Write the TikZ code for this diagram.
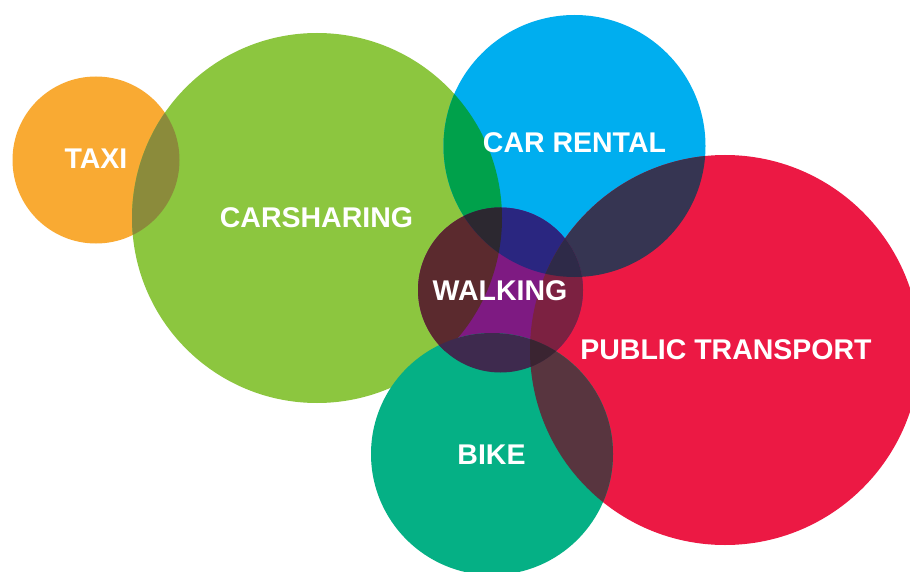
\documentclass[tikz,border=0pt]{standalone}
\usepackage{fontspec}
\setmainfont{Liberation Sans}
\definecolor{cOrange}{HTML}{F9AA33}
\definecolor{cGreen}{HTML}{8CC63F}
\definecolor{cBlue}{HTML}{00AEEF}
\definecolor{cRed}{HTML}{EC1944}
\definecolor{cPurple}{HTML}{7E1A82}
\definecolor{cTeal}{HTML}{05B085}
\definecolor{cOG}{HTML}{8B8B3B}
\definecolor{cGB}{HTML}{00A14B}
\definecolor{cGW}{HTML}{5B2A2E}
\definecolor{cBW}{HTML}{2A2680}
\definecolor{cGBW}{HTML}{2C2830}
\definecolor{cBR}{HTML}{363552}
\definecolor{cBRW}{HTML}{2E2A48}
\definecolor{cRW}{HTML}{7C2141}
\definecolor{cKW}{HTML}{3E2A4E}
\definecolor{cKWR}{HTML}{3A2431}
\definecolor{cKR}{HTML}{58353F}
\tikzset{
  lbl/.style={anchor=base, inner sep=0pt, text=white,
    font=\fontsize{28.5}{30}\selectfont\bfseries}
}
\def\cTaxi{(96,160) circle[radius=83.5pt]}
\def\cCar{(317,218) circle[radius=185pt]}
\def\cRent{(574.5,146) circle[radius=131pt]}
\def\cPub{(725,350) circle[radius=195pt]}
\def\cWalk{(500.5,290) circle[radius=82.5pt]}
\def\cBike{(492,454) circle[radius=121pt]}
\begin{document}
\begin{tikzpicture}[x=1pt,y=-1pt]
\fill[white] (0,0) rectangle (910,572);
\useasboundingbox (0,0) rectangle (910,572);
\begin{scope}
\clip (0,0) rectangle (910,572);
% base circles
\fill[cOrange] \cTaxi;
\fill[cGreen] \cCar;
\fill[cBlue] \cRent;
\fill[cRed] \cPub;
\fill[cPurple] \cWalk;
\fill[cTeal] \cBike;
% pairwise overlaps
\begin{scope}\clip \cTaxi; \fill[cOG] \cCar; \end{scope}
\begin{scope}\clip \cCar; \fill[cGB] \cRent; \end{scope}
\begin{scope}\clip \cRent; \fill[cBR] \cPub; \end{scope}
\begin{scope}\clip \cCar; \fill[cGW] \cWalk; \end{scope}
\begin{scope}\clip \cRent; \fill[cBW] \cWalk; \end{scope}
\begin{scope}\clip \cPub; \fill[cRW] \cWalk; \end{scope}
\begin{scope}\clip \cBike; \fill[cKR] \cPub; \end{scope}
\begin{scope}\clip \cBike; \fill[cKW] \cWalk; \end{scope}
% triple overlaps
\begin{scope}\clip \cCar; \clip \cRent; \fill[cGBW] \cWalk; \end{scope}
\begin{scope}\clip \cRent; \clip \cPub; \fill[cBRW] \cWalk; \end{scope}
\begin{scope}\clip \cBike; \clip \cPub; \fill[cKWR] \cWalk; \end{scope}
\end{scope}
% labels
\node[lbl] (taxi) at (96,169) {TAXI};
\node[lbl] (carsharing) at (316.5,227) {CARSHARING};
\node[lbl] (carrental) at (574.5,153) {CAR RENTAL};
\node[lbl] (walking) at (500,300) {WALKING};
\node[lbl] (public) at (726,359) {PUBLIC TRANSPORT};
\node[lbl] (bike) at (491.5,464) {BIKE};
\end{tikzpicture}
\end{document}
